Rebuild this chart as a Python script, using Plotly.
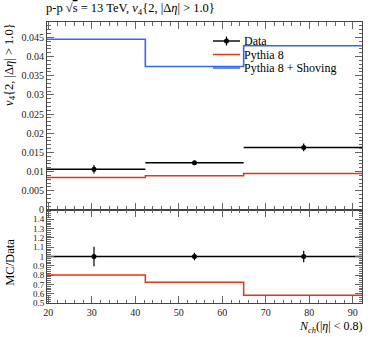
import plotly.graph_objects as go
from plotly.subplots import make_subplots

# ---- data ----
bin_edges = [19.7, 42.3, 64.9, 92.1]
data_x = [30.5, 53.6, 78.7]
data_y = [0.0106, 0.0123, 0.0163]
data_err = [0.0011, 0.0005, 0.0010]
pythia8 = [0.0085, 0.0089, 0.0095]
shoving = [0.0445, 0.0374, 0.0428]

x_ticks = [20, 30, 40, 50, 60, 70, 80, 90]
y_ticks = [0, 0.005, 0.01, 0.015, 0.02, 0.025, 0.03, 0.035, 0.04, 0.045]
y_tick_text = ["0", "0.005", "0.01", "0.015", "0.02", "0.025", "0.03", "0.035", "0.04", "0.045"]
r_ticks = [0.5, 0.6, 0.7, 0.8, 0.9, 1.0, 1.1, 1.2, 1.3, 1.4]
r_tick_text = ["0.5", "0.6", "0.7", "0.8", "0.9", "1", "1.1", "1.2", "1.3", "1.4"]

legend_names = ["Data", "Pythia 8", "Pythia 8 + Shoving"]

FONT = "Liberation Serif"
RED = "#EE3311"
BLUE = "#3366FF"

lo = bin_edges[:-1]
hi = bin_edges[1:]
xm = [x - l for x, l in zip(data_x, lo)]
xp = [h - x for x, h in zip(data_x, hi)]

ratio_p8 = [p / d for p, d in zip(pythia8, data_y)]
ratio_err = [e / d for e, d in zip(data_err, data_y)]
ones = [1.0 for _ in data_y]

def step(vals):
    return vals + [vals[-1]]

fig = make_subplots(rows=2, cols=1, shared_xaxes=True, vertical_spacing=0,
                    row_heights=[0.669, 0.331])

# main panel
fig.add_trace(go.Scatter(x=data_x, y=data_y, mode="markers", name=legend_names[0],
                         marker=dict(color="black", size=5), showlegend=False,
                         error_y=dict(type="data", array=data_err, color="black", thickness=1.2, width=0),
                         error_x=dict(type="data", symmetric=False, array=xp, arrayminus=xm,
                                      color="black", thickness=1.4, width=0)),
              row=1, col=1)
fig.add_trace(go.Scatter(x=bin_edges, y=step(pythia8), mode="lines", line_shape="hv",
                         name=legend_names[1], showlegend=False,
                         line=dict(color=RED, width=1.5)), row=1, col=1)
fig.add_trace(go.Scatter(x=bin_edges, y=step(shoving), mode="lines", line_shape="hv",
                         name=legend_names[2], showlegend=False,
                         line=dict(color=BLUE, width=1.6)), row=1, col=1)

# ratio panel
fig.add_trace(go.Scatter(x=bin_edges, y=step(ones), mode="lines", line_shape="hv",
                         line=dict(color="black", width=1.4), showlegend=False), row=2, col=1)
fig.add_trace(go.Scatter(x=data_x, y=ones, mode="markers", showlegend=False,
                         marker=dict(color="black", size=5),
                         error_y=dict(type="data", array=ratio_err, color="black", thickness=1.2, width=0)),
              row=2, col=1)
fig.add_trace(go.Scatter(x=bin_edges, y=step(ratio_p8), mode="lines", line_shape="hv",
                         line=dict(color=RED, width=1.5), showlegend=False), row=2, col=1)

axis_common = dict(showline=True, linecolor="#444", linewidth=1, mirror="ticks",
                   ticks="inside", tickcolor="#666", showgrid=False, zeroline=False,
                   automargin=False)

fig.update_xaxes(range=[bin_edges[0], bin_edges[-1]], tickvals=x_ticks, ticklen=7,
                 tickfont=dict(family=FONT, size=10, color="#222"),
                 minor=dict(dtick=2, ticks="inside", ticklen=3.5, tickcolor="#666"),
                 **axis_common)
fig.update_xaxes(showticklabels=False, row=1, col=1)
fig.update_xaxes(showticklabels=True, row=2, col=1)

fig.update_yaxes(range=[0, 0.049], tickvals=y_ticks, ticktext=y_tick_text, ticklen=7,
                 tickfont=dict(family=FONT, size=10, color="#222"),
                 minor=dict(dtick=0.001, ticks="inside", ticklen=3.5, tickcolor="#666"),
                 row=1, col=1, **axis_common)
fig.update_yaxes(range=[0.5, 1.5], tickvals=r_ticks, ticktext=r_tick_text, ticklen=7,
                 tickfont=dict(family=FONT, size=9, color="#222"),
                 minor=dict(dtick=0.02, ticks="inside", ticklen=3.5, tickcolor="#666"),
                 row=2, col=1, **axis_common)

# ---- manual legend (paper coordinates) ----
W = 315.0   # plot width in px
H = 281.0   # plot height in px
leg_x0 = (213 - 47) / W
leg_x1 = (240 - 47) / W
leg_tx = (242 - 47) / W
leg_rows = [(303 - 41) / H, (303 - 54.5) / H, (303 - 68) / H]
leg_colors = ["black", RED, BLUE]

shapes = []
annotations = []
for name, col, yy in zip(legend_names, leg_colors, leg_rows):
    shapes.append(dict(type="line", xref="paper", yref="paper", x0=leg_x0, x1=leg_x1,
                       y0=yy, y1=yy, line=dict(color=col, width=1.5 if col != "black" else 1.4)))
    annotations.append(dict(text=name, xref="paper", yref="paper", x=leg_tx, y=yy,
                            xanchor="left", yanchor="middle", showarrow=False,
                            font=dict(family=FONT, size=12, color="black")))
# data legend marker and bar
xc = (leg_x0 + leg_x1) / 2
yc = leg_rows[0]
shapes.append(dict(type="line", xref="paper", yref="paper", x0=xc, x1=xc,
                   y0=yc - 4.5 / H, y1=yc + 4.5 / H, line=dict(color="black", width=1.2)))
shapes.append(dict(type="circle", xref="paper", yref="paper", x0=xc - 2.5 / W, x1=xc + 2.5 / W,
                   y0=yc - 2.5 / H, y1=yc + 2.5 / H, fillcolor="black", line=dict(color="black", width=0)))

annotations += [
    dict(text="p-p √<span style='text-decoration:overline'>s</span> = 13 TeV, <i>v</i><sub>4</sub>{2, |Δ<i>η</i>| &gt; 1.0}",
         xref="paper", yref="paper", x=-0.01, y=1.045, xanchor="left", yanchor="middle",
         showarrow=False, font=dict(family=FONT, size=12.5)),
    dict(text="<i>v</i><sub>4</sub>{2, |Δ<i>η</i>| &gt; 1.0}", textangle=-90,
         xref="paper", yref="paper", x=-0.118, y=1.005, xanchor="center", yanchor="top",
         showarrow=False, font=dict(family=FONT, size=12.5)),
    dict(text="MC/Data", textangle=-90,
         xref="paper", yref="paper", x=-0.118, y=0.146, xanchor="center", yanchor="middle",
         showarrow=False, font=dict(family=FONT, size=12.5)),
    dict(text="<i>N</i><sub><i>ch</i></sub>(|<i>η</i>| &lt; 0.8)",
         xref="paper", yref="paper", x=1.005, y=-0.085, xanchor="right", yanchor="middle",
         showarrow=False, font=dict(family=FONT, size=12)),
]

fig.update_layout(
    width=374, height=337,
    margin=dict(l=47, r=12, t=22, b=34),
    paper_bgcolor="white", plot_bgcolor="white",
    font=dict(family=FONT, size=11, color="black"),
    showlegend=False,
    shapes=shapes,
    annotations=annotations,
)

# remove the browser's default 8px page margin so the figure sits at (0, 0)
fig.write_html("out.html", config={"displayModeBar": False},
               post_script="document.body.style.margin='0px';")
